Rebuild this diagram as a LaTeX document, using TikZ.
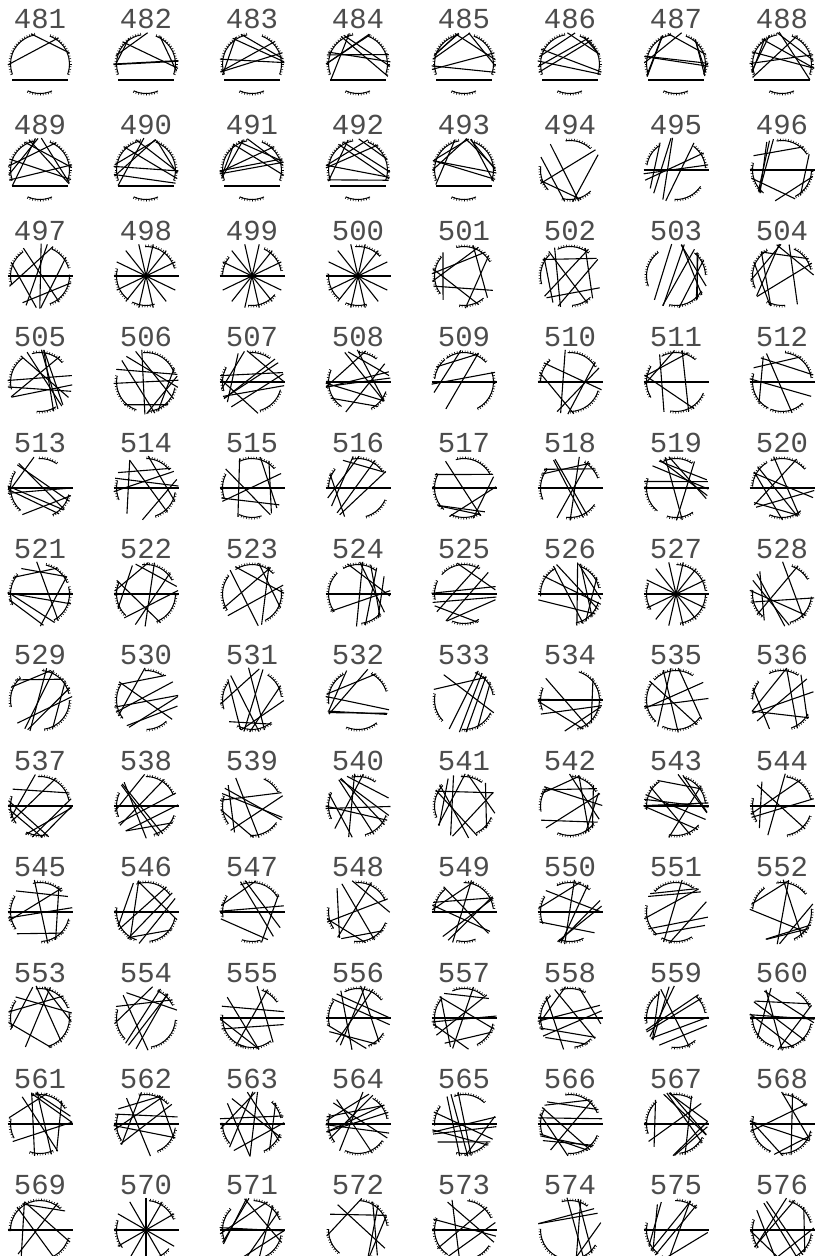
\documentclass[tikz,border=0pt]{standalone}
\usepackage{fontspec}
\setmonofont{Liberation Mono}
\usetikzlibrary{calc}

\begin{document}
\begin{tikzpicture}[x=1pt, y=1pt, line width=1.1pt,
	num/.style={font=\ttfamily\fontsize{29}{29}\selectfont, text=black!70, inner sep=0pt},
	chord/.style={line width=1.1pt, shorten <=-3pt, shorten >=-3pt},
	diam/.style={line width=1.7pt, shorten <=-3pt, shorten >=-3pt},
	rim/.style={line width=1pt},
	tick/.style={line width=0.6pt}]
	\useasboundingbox (0,0) rectangle (816,-1256);
	\def\R{29.5}
	% chords per diagram, and 0 = none, 1 = horizontal diameter, 2 = low chord, 3 = star
	\def\counts{{2,6,6,7,7,7,8,8, 8,8,8,8,8,5,6,7, 7,7,7,7,7,8,8,8, 9,9,9,9,4,5,5,5, 7,7,6,6,6,6,7,7, 7,7,6,7,7,8,7,7, 7,7,8,6,6,6,6,7, 8,8,7,9,9,9,9,5, 6,7,6,7,7,7,7,7, 7,7,6,8,8,8,8,8, 8,8,9,9,9,9,9,6, 5,6,8,6,5,6,6,8}}
	\def\flags{{2,2,2,2,2,2,2,2, 2,2,2,2,2,0,1,1, 1,3,3,3,0,0,0,0, 0,0,1,1,1,1,1,1, 1,1,1,1,1,1,1,1, 1,1,0,1,1,1,3,0, 0,0,0,0,0,1,0,0, 1,1,0,0,0,0,1,1, 1,1,1,0,1,1,0,0, 0,0,1,1,1,1,1,1, 1,1,1,1,1,1,1,1, 1,3,1,0,1,0,1,1}}
	\foreach \n in {0,...,95}{
		\pgfmathtruncatemacro\lbl{481+\n}
		\pgfmathsetmacro\cx{40+106*mod(\n,8)}
		\pgfmathsetmacro\cy{-64-106*floor(\n/8)}
		\pgfmathtruncatemacro\k{\counts[\n]}
		\pgfmathtruncatemacro\h{\flags[\n]}
		\coordinate (c\lbl) at (\cx,\cy);
		\node[num] (n\lbl) at (\cx,\cy+45) {\lbl};
		\pgfmathsetseed{31*\n+7}
		% chords
		\foreach \i in {1,...,\k}{
			\ifnum\h=3
				\pgfmathsetmacro\a{\i*180/\k}
				\pgfmathsetmacro\b{\a+180}
			\else\ifnum\h=2
				\pgfmathsetmacro\a{mod(\i,3)==0 ? 150+50*rnd : 45+90*rnd}
				\pgfmathsetmacro\b{mod(\i,2)==0 ? -28+55*rnd : 153+55*rnd}
				\pgfmathsetmacro\b{mod(\i,3)==0 ? -28+50*rnd : \b}
			\else
				\pgfmathsetmacro\a{360*rnd}
				\pgfmathsetmacro\b{\a+75+210*rnd}
			\fi\fi
			\draw[chord] ($(c\lbl)+(\a:\R)$) -- ($(c\lbl)+(\b:\R)$);
		}
		\ifnum\h=1
			\draw[diam] ($(c\lbl)+(180:\R)$) -- ($(c\lbl)+(0:\R)$);
		\fi
		% rim pieces with ticks
		\ifnum\h=2
			\draw[diam] ($(c\lbl)+(213:\R)$) -- ($(c\lbl)+(327:\R)$);
			\foreach \s/\w in {100/100, -20/90, 246/48}{
				\draw[rim] ($(c\lbl)+(\s:\R)$) arc[start angle=\s, delta angle=\w, radius=\R];
				\foreach \t in {0,5,...,\w}
					\draw[tick] ($(c\lbl)+(\s+\t:\R-0.5)$) -- ($(c\lbl)+(\s+\t:\R+2)$);
			}
		\else
			\foreach \j in {1,2,3}{
				\pgfmathsetmacro\s{120*\j+60*rnd}
				\pgfmathsetmacro\w{35+50*rnd}
				\draw[rim] ($(c\lbl)+(\s:\R)$) arc[start angle=\s, delta angle=\w, radius=\R];
				\foreach \t in {0,5,...,\w}
					\draw[tick] ($(c\lbl)+(\s+\t:\R-0.5)$) -- ($(c\lbl)+(\s+\t:\R+2)$);
			}
		\fi
	}
\end{tikzpicture}
\end{document}
